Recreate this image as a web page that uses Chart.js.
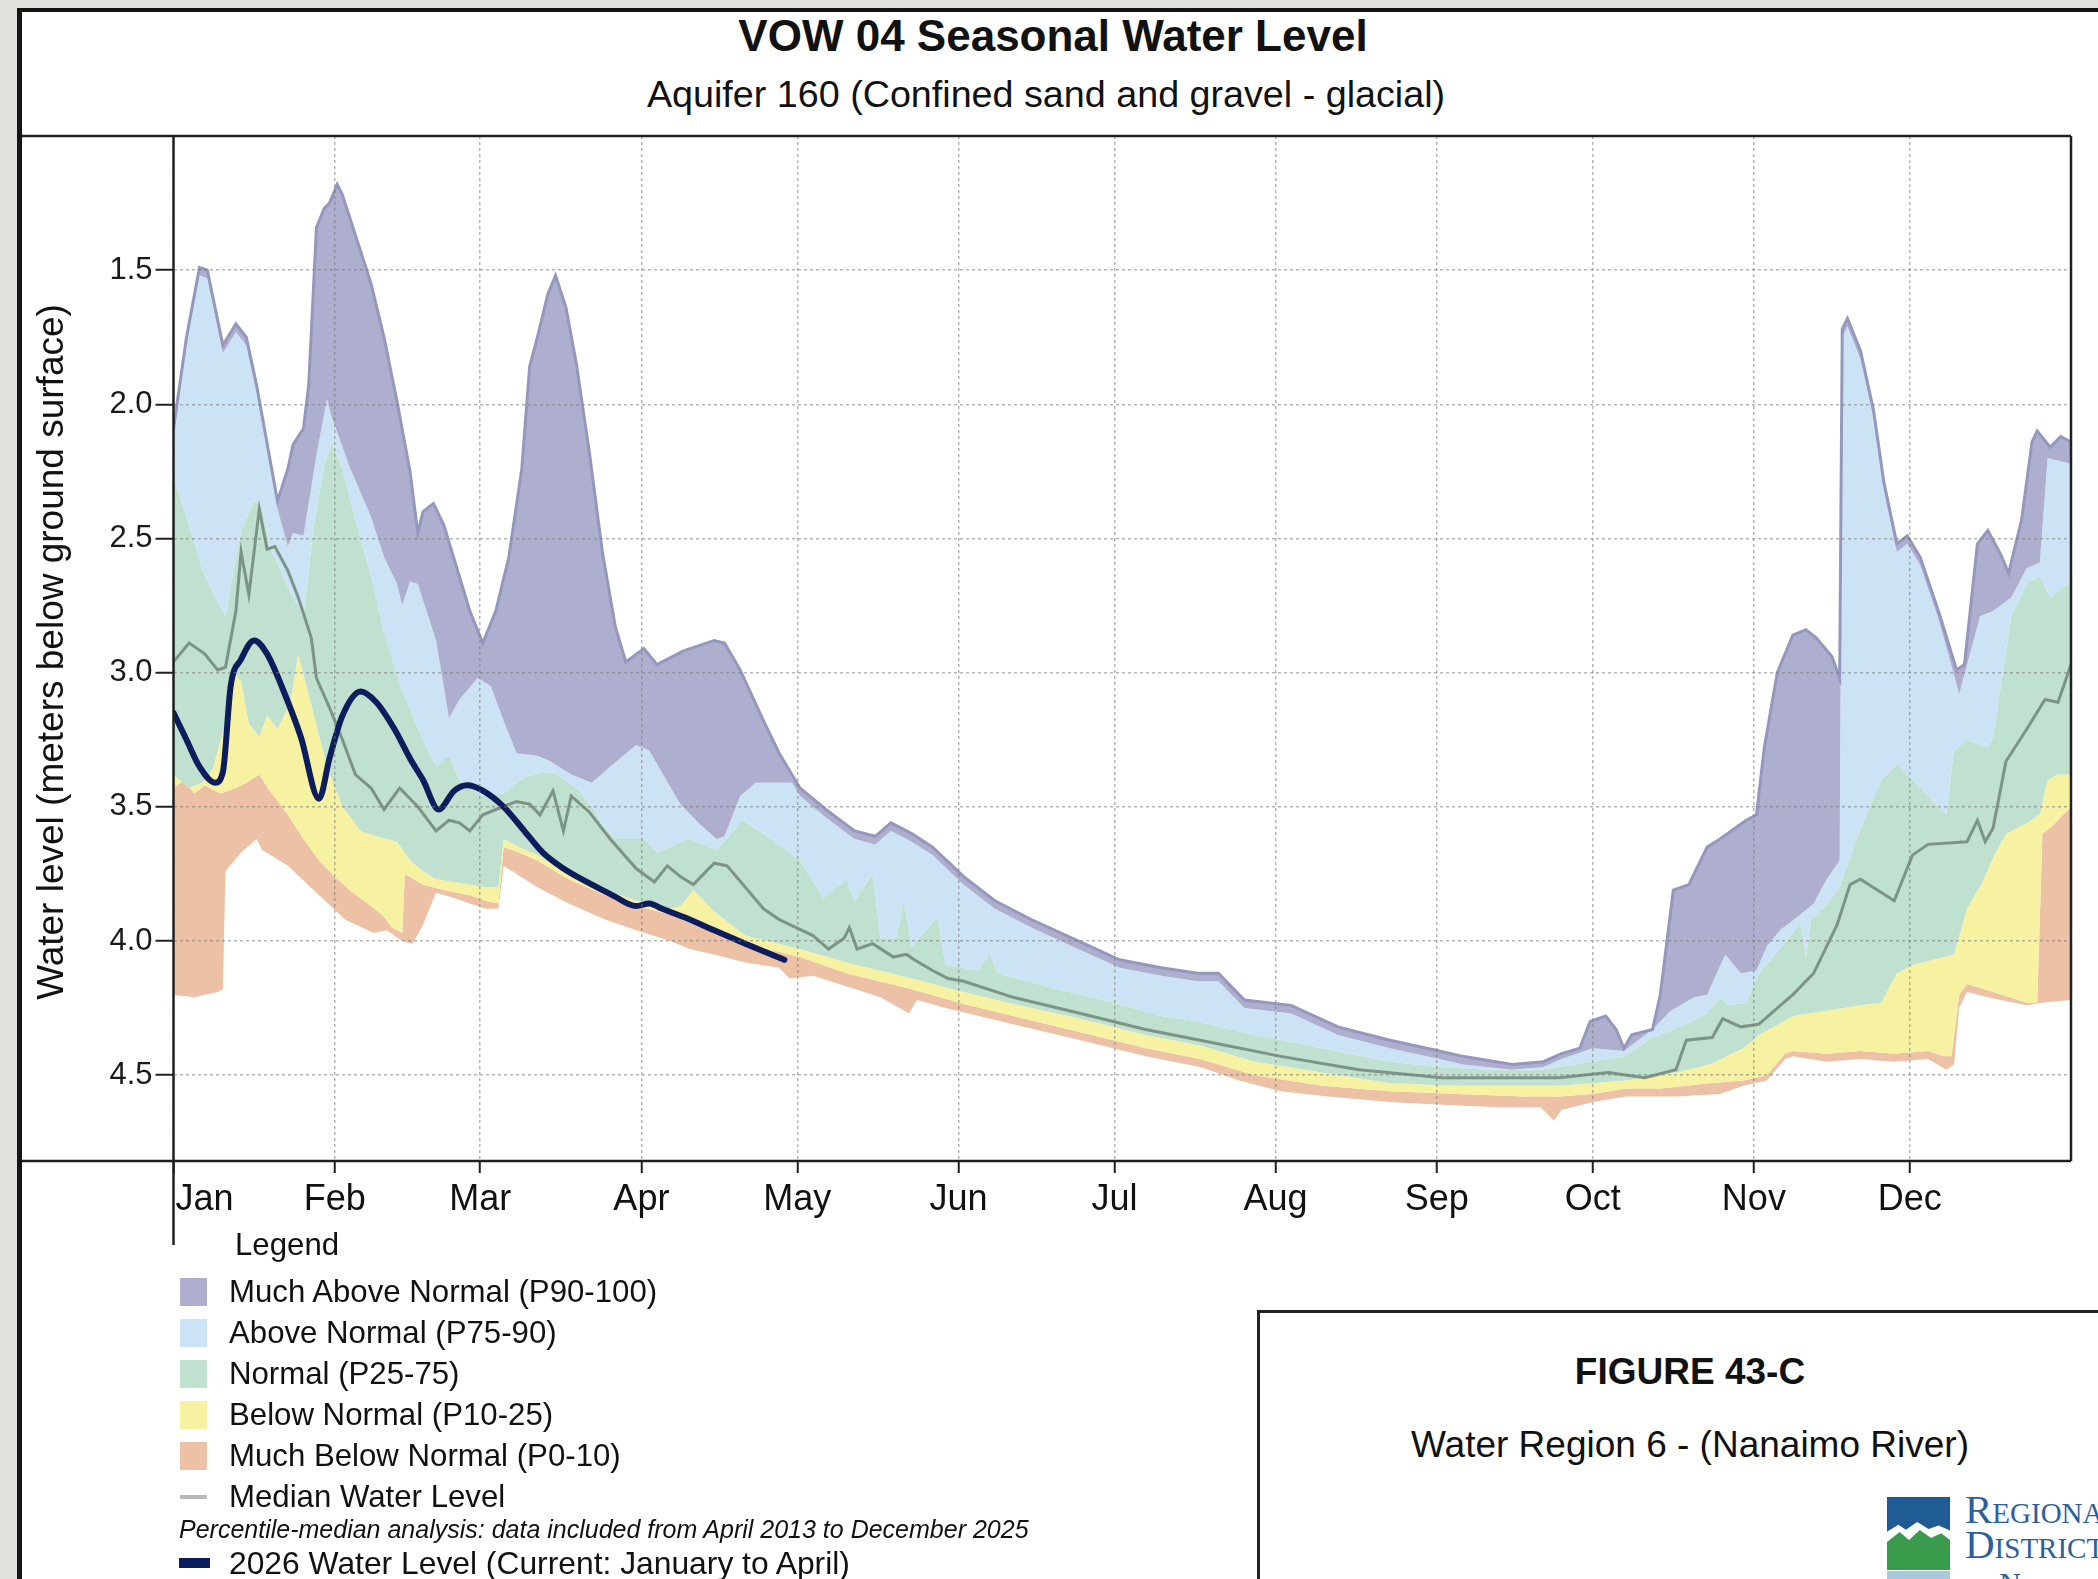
<!DOCTYPE html>
<html>
<head>
<meta charset="utf-8">
<title>VOW 04 Seasonal Water Level</title>
<script src="https://cdn.jsdelivr.net/npm/chart.js@4.4.1/dist/chart.umd.min.js"></script>
<style>
  html, body { margin: 0; padding: 0; }
  body {
    width: 2098px; height: 1579px; position: relative; overflow: hidden;
    background: #e1e1dc;
    font-family: "Liberation Sans", Arial, Helvetica, sans-serif; color: #111;
  }
  #page {
    position: absolute; left: 17px; top: 8px; width: 2081px; height: 1571px;
    box-sizing: border-box; background: #fff;
    border-left: 5px solid #151515; border-top: 4px solid #151515;
  }
  .abs { position: absolute; white-space: nowrap; }
  .center { transform: translateX(-50%); text-align: center; }
  #chart { position: absolute; left: 22px; top: 12px; }
  .lg-item { position: absolute; left: 180px; height: 40px; line-height: 40px; font-size: 31.2px; padding-left: 49px; white-space: nowrap; }
  .sw { position: absolute; left: 0; top: 6px; width: 27px; height: 28px; }
  #figbox { position: absolute; left: 1257px; top: 1310px; width: 900px; height: 400px; border: 3px solid #222; background: #fff; }
</style>
</head>
<body>
<div id="page"></div>

<div class="abs center" style="left:1053px; top:11px; line-height:50px; font-size:44px; font-weight:bold;">VOW 04 Seasonal Water Level</div>
<div class="abs center" style="left:1046px; top:69px; line-height:50px; font-size:37.7px;">Aquifer 160 (Confined sand and gravel - glacial)</div>

<canvas id="chart" width="2076" height="1300"></canvas>

<div class="abs" style="left:-349px; top:630px; width:800px; height:44px; line-height:44px; font-size:37px; text-align:center; transform:rotate(-90deg);">Water level (meters below ground surface)</div>

<div class="abs" style="left:235px; top:1225px; line-height:40px; font-size:31.2px;">Legend</div>
<div class="lg-item" style="top:1272px;"><span class="sw" style="background:#aeafcf;"></span>Much Above Normal (P90-100)</div>
<div class="lg-item" style="top:1313px;"><span class="sw" style="background:#cce3f6;"></span>Above Normal (P75-90)</div>
<div class="lg-item" style="top:1354px;"><span class="sw" style="background:#c0e1cf;"></span>Normal (P25-75)</div>
<div class="lg-item" style="top:1395px;"><span class="sw" style="background:#f7f2a2;"></span>Below Normal (P10-25)</div>
<div class="lg-item" style="top:1436px;"><span class="sw" style="background:#ecc1a5;"></span>Much Below Normal (P0-10)</div>
<div class="lg-item" style="top:1477px;"><span class="sw" style="top:18px; height:4px; background:#b9b9b9;"></span>Median Water Level</div>
<div class="abs" style="left:179px; top:1513px; line-height:32px; font-size:25px; font-style:italic;">Percentile-median analysis: data included from April 2013 to December 2025</div>
<div class="lg-item" style="top:1543px; font-size:31.8px;"><span class="sw" style="left:-1px; top:15px; width:31px; height:10px; background:#0b1d5c;"></span>2026 Water Level (Current: January to April)</div>

<div id="figbox"></div>
<div class="abs center" style="left:1690px; top:1350px; line-height:44px; font-size:37px; font-weight:bold;">FIGURE 43-C</div>
<div class="abs center" style="left:1690px; top:1423px; line-height:44px; font-size:37px;">Water Region 6 - (Nanaimo River)</div>

<div class="abs" style="left:1887px; top:1497px; width:63px; height:38px; background:#1f5c96;"></div>
<div class="abs" style="left:1887px; top:1522px; width:63px; height:14px; background:#fff; clip-path:polygon(0 100%, 0 70%, 18% 20%, 30% 55%, 48% 0, 66% 50%, 82% 25%, 100% 60%, 100% 100%);"></div>
<div class="abs" style="left:1887px; top:1530px; width:63px; height:40px; background:#3a9b4c; clip-path:polygon(0 100%, 0 30%, 20% 5%, 35% 25%, 52% 0, 70% 20%, 86% 8%, 100% 25%, 100% 100%);"></div>
<div class="abs" style="left:1887px; top:1571px; width:63px; height:10px; background:#a9c7dd;"></div>
<div class="abs" style="left:1965px; top:1492px; line-height:35px; font-size:41px; font-family:'Liberation Serif', 'DejaVu Serif', serif; font-variant:small-caps; color:#2c5f9d;">Regional<br>District<br><span style="font-size:30px;">of Nanaimo</span></div>

<script>
// x positions are day of year (0 = Jan 1), values are metres below ground surface
const monthNames = ['Jan', 'Feb', 'Mar', 'Apr', 'May', 'Jun', 'Jul', 'Aug', 'Sep', 'Oct', 'Nov', 'Dec'];
const monthStarts = [0, 31, 59, 90, 120, 151, 181, 212, 243, 273, 304, 334];
const yTicks = [1.5, 2.0, 2.5, 3.0, 3.5, 4.0, 4.5];

// P100 - top of "Much Above Normal"
const p100Day = [0, 2.5, 5, 6.5, 9.5, 12, 14, 16, 20, 22, 23, 25, 26, 27.5, 29, 30, 31.5, 32.5, 35, 38, 40.5, 43, 45.5, 47, 48, 50, 52, 54.5, 57, 59.5, 62, 64.5, 67, 68.5, 70, 72, 73.5, 75.5, 77.5, 80, 82.5, 85, 87, 90.5, 93, 98, 104, 106, 109, 113.5, 116.5, 120.5, 125.5, 131, 135, 138, 142, 146, 152, 158, 165, 174, 182, 190, 197, 201, 206, 215, 224, 234, 243.5, 248, 257.5, 263.5, 267, 270.5, 272.5, 275.5, 277.5, 279, 280.5, 284.5, 286, 288.5, 291.5, 295, 297.5, 302.5, 304.5, 306, 308.5, 311.5, 314, 316, 319, 320.5, 321, 322, 324.5, 327, 329, 331.5, 333.5, 336, 339.5, 343, 344.5, 347, 349, 351.5, 353, 355.5, 357.5, 358.5, 361, 363, 365];
const p100Val = [2.09, 1.75, 1.49, 1.50, 1.78, 1.70, 1.75, 1.93, 2.36, 2.24, 2.15, 2.09, 1.93, 1.34, 1.27, 1.25, 1.18, 1.22, 1.37, 1.55, 1.75, 1.99, 2.25, 2.48, 2.40, 2.37, 2.45, 2.61, 2.77, 2.89, 2.77, 2.57, 2.24, 1.86, 1.75, 1.59, 1.52, 1.64, 1.85, 2.18, 2.55, 2.83, 2.96, 2.91, 2.97, 2.92, 2.88, 2.89, 2.99, 3.18, 3.30, 3.43, 3.51, 3.59, 3.61, 3.56, 3.60, 3.65, 3.76, 3.85, 3.92, 4.00, 4.07, 4.10, 4.12, 4.12, 4.22, 4.24, 4.32, 4.37, 4.41, 4.43, 4.46, 4.45, 4.42, 4.40, 4.30, 4.28, 4.33, 4.40, 4.35, 4.33, 4.20, 3.81, 3.79, 3.65, 3.62, 3.55, 3.53, 3.28, 3.00, 2.86, 2.84, 2.87, 2.94, 3.02, 1.72, 1.68, 1.80, 2.02, 2.29, 2.52, 2.49, 2.57, 2.77, 2.99, 2.97, 2.52, 2.47, 2.56, 2.63, 2.43, 2.14, 2.10, 2.16, 2.12, 2.14];

// P90
const p90Day = [0, 2.5, 5, 6.5, 9.5, 12, 14, 16, 20, 22, 23, 25, 27.5, 29.5, 30.5, 34, 38, 40.5, 43, 44, 45.5, 47, 50.5, 53, 55, 58.5, 61, 63.5, 66, 70, 72.5, 76.5, 80.5, 84, 89, 91.5, 97.5, 101.5, 104.5, 106, 109, 112, 119, 120.5, 125.5, 131, 135, 138, 142, 146, 152, 158, 165, 174, 182, 190, 197, 201, 206, 215, 224, 234, 243.5, 248, 257.5, 263.5, 267, 273, 279, 284.5, 288, 292.5, 295, 298.5, 301.5, 304.5, 306.5, 309, 313, 315.5, 318, 320.5, 321, 322, 324.5, 327, 329, 331.5, 333.5, 336, 339.5, 343.5, 347.5, 350, 353.5, 356.5, 359, 360.5, 364.5, 365];
const p90Val = [2.12, 1.78, 1.52, 1.53, 1.81, 1.73, 1.78, 1.96, 2.39, 2.53, 2.48, 2.49, 2.19, 1.98, 2.05, 2.24, 2.42, 2.57, 2.67, 2.75, 2.66, 2.67, 2.88, 3.17, 3.10, 3.02, 3.05, 3.18, 3.30, 3.31, 3.33, 3.38, 3.41, 3.35, 3.27, 3.29, 3.49, 3.57, 3.62, 3.61, 3.46, 3.41, 3.41, 3.46, 3.54, 3.62, 3.64, 3.59, 3.63, 3.68, 3.79, 3.88, 3.95, 4.03, 4.10, 4.13, 4.15, 4.15, 4.25, 4.27, 4.35, 4.40, 4.44, 4.46, 4.48, 4.47, 4.44, 4.40, 4.41, 4.33, 4.26, 4.21, 4.20, 4.05, 4.12, 4.11, 4.02, 3.96, 3.90, 3.86, 3.77, 3.70, 1.75, 1.71, 1.83, 2.05, 2.32, 2.55, 2.52, 2.60, 2.80, 3.08, 2.79, 2.77, 2.72, 2.61, 2.59, 2.20, 2.22, 2.22];

// P75
const p75Day = [0, 3, 5.5, 7, 10, 13, 15.5, 17, 18.5, 22.5, 25, 27, 29, 30.5, 32.5, 35, 38, 40.5, 44, 48, 50.5, 53, 55, 59.5, 63.5, 67.5, 71, 74, 78, 80.5, 82.5, 85, 90.5, 93, 95.5, 99, 104.5, 109.5, 113.5, 120.5, 125, 129.5, 131, 134.5, 136, 139, 140.5, 142, 147, 148.5, 155, 157, 158.5, 168, 181, 190, 197, 208, 221, 234, 243.5, 253, 263, 273, 279, 284.5, 291, 295, 297.5, 299, 302.5, 305, 311.5, 313, 314, 315, 316.5, 320.5, 324.5, 328.5, 331.5, 334.5, 337.5, 341, 342.5, 345, 349, 350, 351.5, 353.5, 356.5, 359, 361, 365];
const p75Val = [2.27, 2.45, 2.61, 2.68, 2.79, 2.47, 2.36, 2.38, 2.53, 2.70, 2.79, 2.45, 2.23, 2.14, 2.24, 2.43, 2.64, 2.85, 3.07, 3.25, 3.35, 3.31, 3.40, 3.46, 3.45, 3.39, 3.37, 3.38, 3.44, 3.50, 3.57, 3.62, 3.62, 3.67, 3.65, 3.62, 3.66, 3.55, 3.60, 3.70, 3.84, 3.77, 3.85, 3.75, 3.99, 3.99, 3.85, 4.02, 3.91, 4.09, 4.11, 4.04, 4.12, 4.17, 4.23, 4.28, 4.30, 4.35, 4.40, 4.45, 4.47, 4.48, 4.48, 4.45, 4.43, 4.36, 4.31, 4.27, 4.21, 4.24, 4.23, 4.12, 3.97, 3.93, 4.06, 3.92, 3.90, 3.80, 3.58, 3.40, 3.34, 3.40, 3.46, 3.53, 3.29, 3.25, 3.28, 3.24, 3.05, 2.79, 2.67, 2.64, 2.72, 2.66];

// P25
const p25Day = [0, 3, 5.5, 7.5, 10, 12, 13, 14.5, 16.5, 18, 20, 22.5, 24, 26.5, 29.5, 32.5, 36, 39, 43, 45.5, 48, 50.5, 54, 57, 60, 62.5, 63.5, 66.5, 70, 76, 83, 89, 95.5, 97.5, 100, 104, 110, 120.5, 129.5, 142, 152, 161.5, 174.5, 187, 197.5, 208, 221, 234, 247, 260, 266.5, 279.5, 289, 295.5, 302, 305, 311.5, 318, 324.5, 328.5, 331.5, 334.5, 342.5, 345, 348, 350, 352.5, 356.5, 359, 360.5, 362.5, 365];
const p25Val = [3.38, 3.43, 3.41, 3.36, 3.19, 3.01, 3.03, 3.19, 3.24, 3.16, 3.21, 3.11, 2.93, 3.12, 3.35, 3.50, 3.59, 3.61, 3.63, 3.70, 3.74, 3.77, 3.78, 3.79, 3.80, 3.80, 3.62, 3.65, 3.68, 3.75, 3.81, 3.85, 3.88, 3.87, 3.81, 3.89, 3.98, 4.03, 4.08, 4.14, 4.19, 4.235, 4.29, 4.35, 4.39, 4.45, 4.49, 4.53, 4.54, 4.54, 4.54, 4.52, 4.49, 4.46, 4.40, 4.35, 4.28, 4.26, 4.24, 4.23, 4.12, 4.09, 4.05, 3.88, 3.78, 3.69, 3.60, 3.56, 3.53, 3.40, 3.38, 3.38];

// P10
const p10Day = [0, 2, 4, 6, 9, 12, 14, 16.5, 18.5, 22, 25, 28, 31.5, 34.5, 38, 40.5, 42, 44, 44.5, 48, 52, 57, 60, 62.5, 63.5, 66.5, 70, 76, 83, 89, 95.5, 99, 103, 110, 120.5, 129.5, 142, 152, 161.5, 174.5, 187, 197.5, 208, 221, 234, 247, 260, 266.5, 273, 279.5, 286, 295.5, 302, 306.5, 310, 311.5, 318, 324.5, 331, 337.5, 340.5, 342, 343.5, 345, 350, 356.5, 358.5, 359.5, 361.5, 365];
const p10Val = [3.43, 3.40, 3.45, 3.42, 3.45, 3.43, 3.41, 3.38, 3.44, 3.53, 3.62, 3.70, 3.77, 3.82, 3.87, 3.91, 3.95, 3.97, 3.75, 3.79, 3.81, 3.83, 3.85, 3.86, 3.65, 3.67, 3.70, 3.77, 3.83, 3.87, 3.90, 3.93, 3.96, 4.01, 4.06, 4.12, 4.18, 4.235, 4.28, 4.34, 4.40, 4.44, 4.50, 4.54, 4.56, 4.57, 4.58, 4.58, 4.57, 4.55, 4.55, 4.53, 4.52, 4.50, 4.42, 4.41, 4.42, 4.41, 4.42, 4.41, 4.43, 4.43, 4.20, 4.16, 4.19, 4.23, 4.23, 3.60, 3.57, 3.50];

// P0 - bottom of "Much Below Normal"
const p0Day = [0, 4, 8.5, 9.5, 10, 13, 16, 17, 22, 27.5, 33, 38.5, 41, 44, 46, 48, 50.5, 54, 57, 60, 62.5, 63.5, 70, 76, 83, 89, 95.5, 99.3, 104, 110, 116.5, 118.5, 123, 129.5, 136, 141.5, 143, 148.5, 161.5, 174.5, 187, 197.5, 205, 213, 222, 234, 244, 255, 263, 265.5, 267, 273, 279.5, 289, 297.5, 302, 306.5, 310, 311.5, 318, 324.5, 331, 337.5, 341, 342.5, 343.5, 345, 349, 356.5, 359.5, 365];
const p0Val = [4.20, 4.21, 4.19, 4.18, 3.74, 3.67, 3.62, 3.66, 3.72, 3.82, 3.92, 3.97, 3.96, 4.00, 4.01, 3.94, 3.82, 3.84, 3.86, 3.88, 3.88, 3.72, 3.80, 3.86, 3.92, 3.96, 4.00, 4.03, 4.05, 4.08, 4.10, 4.14, 4.13, 4.17, 4.21, 4.27, 4.22, 4.25, 4.31, 4.37, 4.43, 4.47, 4.52, 4.56, 4.58, 4.60, 4.61, 4.62, 4.62, 4.67, 4.63, 4.60, 4.58, 4.58, 4.57, 4.54, 4.52, 4.44, 4.43, 4.45, 4.44, 4.45, 4.44, 4.48, 4.46, 4.25, 4.19, 4.21, 4.24, 4.23, 4.22];

// median water level
const medDay = [0, 3, 6, 8.5, 10, 12, 13, 14.5, 16.5, 18, 19.5, 22, 24, 26.5, 27.5, 30, 32.5, 35, 38, 40.5, 43.5, 47, 50.5, 53, 55, 57, 59.5, 62, 66, 68.5, 70.5, 73, 75, 76.5, 80, 84, 89, 92.5, 95, 97.5, 100, 104, 106.5, 113.5, 116.5, 123, 126, 129, 130, 131.5, 134.5, 138.5, 141, 142.5, 146, 149, 152, 161.5, 174.5, 187, 197.5, 213, 228, 244, 258, 266.5, 276, 283, 289, 291, 296, 298, 301.5, 305, 308.5, 311.5, 315.5, 318, 320, 322.5, 324.5, 331, 334.5, 337.5, 345, 347, 348.5, 350, 352.5, 356.5, 360, 362.5, 365];
const medVal = [2.96, 2.89, 2.93, 2.99, 2.98, 2.77, 2.55, 2.71, 2.39, 2.54, 2.53, 2.62, 2.72, 2.87, 3.02, 3.13, 3.25, 3.38, 3.43, 3.51, 3.43, 3.50, 3.59, 3.55, 3.56, 3.59, 3.53, 3.51, 3.48, 3.49, 3.53, 3.44, 3.59, 3.46, 3.52, 3.62, 3.73, 3.78, 3.72, 3.76, 3.79, 3.71, 3.72, 3.88, 3.92, 3.98, 4.03, 3.99, 3.95, 4.03, 4.01, 4.06, 4.05, 4.07, 4.11, 4.14, 4.15, 4.21, 4.27, 4.33, 4.37, 4.43, 4.48, 4.51, 4.51, 4.51, 4.49, 4.51, 4.48, 4.37, 4.36, 4.29, 4.32, 4.31, 4.25, 4.20, 4.12, 4.02, 3.94, 3.79, 3.77, 3.85, 3.68, 3.64, 3.63, 3.55, 3.63, 3.58, 3.33, 3.21, 3.10, 3.11, 2.97];

// 2026 water level (January to April)
const cur2026Day = [0, 2.5, 5, 8, 9.5, 11, 13, 15.5, 18, 21, 24.5, 28, 30, 32.5, 36, 39, 42.5, 45.5, 48, 51, 54, 56.5, 59.5, 63.5, 67.5, 71, 75, 79.5, 84.5, 89, 91.5, 94, 98, 104, 110, 117.5];
const cur2026Val = [3.15, 3.25, 3.35, 3.41, 3.37, 3.05, 2.95, 2.88, 2.93, 3.06, 3.24, 3.47, 3.32, 3.16, 3.07, 3.11, 3.21, 3.32, 3.40, 3.51, 3.44, 3.42, 3.44, 3.50, 3.59, 3.67, 3.73, 3.78, 3.83, 3.87, 3.86, 3.88, 3.91, 3.96, 4.01, 4.07];

function pts(days, vals) {
    return days.map((d, i) => ({ x: d, y: vals[i] }));
}

const none = 'rgba(0,0,0,0)';
const gridColor = 'rgba(120,120,120,0.55)';
const font = '"Liberation Sans", Arial, Helvetica, sans-serif';

// frame lines round the plot and the month labels under it
const framePlugin = {
    id: 'frame',
    afterDraw(chart) {
        const { ctx, chartArea: a, scales: { x } } = chart;
        ctx.save();
        ctx.strokeStyle = '#202020';
        ctx.lineWidth = 2.5;
        ctx.beginPath();
        ctx.moveTo(0, a.top); ctx.lineTo(a.right, a.top);
        ctx.moveTo(0, a.bottom); ctx.lineTo(a.right, a.bottom);
        ctx.moveTo(a.right, a.top); ctx.lineTo(a.right, a.bottom);
        ctx.moveTo(a.left, a.top); ctx.lineTo(a.left, a.bottom + 84);
        ctx.stroke();

        ctx.fillStyle = '#111';
        ctx.font = '36px ' + font;
        ctx.textBaseline = 'middle';
        monthStarts.forEach((d, i) => {
            const px = x.getPixelForValue(d);
            ctx.textAlign = i === 0 ? 'left' : 'center';
            ctx.fillText(monthNames[i], i === 0 ? px + 2 : px, a.bottom + 39);
        });
        ctx.restore();
    }
};

new Chart(document.getElementById('chart'), {
    type: 'line',
    data: {
        datasets: [
            { label: 'Much Above Normal (P90-100)', data: pts(p100Day, p100Val), borderColor: '#9597bd', borderWidth: 3, backgroundColor: '#aeafcf', fill: '+1', order: 2 },
            { label: 'Above Normal (P75-90)', data: pts(p90Day, p90Val), borderColor: none, borderWidth: 0, backgroundColor: '#cce3f6', fill: '+1', order: 3 },
            { label: 'Normal (P25-75)', data: pts(p75Day, p75Val), borderColor: none, borderWidth: 0, backgroundColor: '#c0e1cf', fill: '+1', order: 4 },
            { label: 'Below Normal (P10-25)', data: pts(p25Day, p25Val), borderColor: none, borderWidth: 0, backgroundColor: '#f7f2a2', fill: '+1', order: 5 },
            { label: 'Much Below Normal (P0-10)', data: pts(p10Day, p10Val), borderColor: none, borderWidth: 0, backgroundColor: '#ecc1a5', fill: '+1', order: 6 },
            { label: 'P0', data: pts(p0Day, p0Val), borderColor: none, borderWidth: 0, fill: false, order: 7 },
            { label: 'Median Water Level', data: pts(medDay, medVal), borderColor: '#7c9486', borderWidth: 3, fill: false, order: 1 },
            { label: '2026 Water Level', data: pts(cur2026Day, cur2026Val), borderColor: '#0b1d5c', borderWidth: 6, fill: false, order: 0, cubicInterpolationMode: 'monotone', borderCapStyle: 'round', borderJoinStyle: 'round' }
        ]
    },
    options: {
        responsive: false,
        animation: false,
        events: [],
        layout: { padding: { left: 0, top: 124, right: 27, bottom: 0 } },
        elements: { point: { radius: 0 }, line: { tension: 0 } },
        plugins: {
            legend: { display: false },
            tooltip: { enabled: false },
            filler: { propagate: false }
        },
        scales: {
            x: {
                type: 'linear', min: 0, max: 365,
                afterFit(scale) { scale.height = 151; },
                afterBuildTicks(scale) { scale.ticks = monthStarts.map(v => ({ value: v })); },
                ticks: { display: false },
                grid: { color: gridColor, lineWidth: 1.5, z: 1, tickLength: 12, tickColor: '#202020', tickWidth: 2 },
                border: { display: false, dash: [3, 3] }
            },
            y: {
                type: 'linear', reverse: true, min: 1.0, max: 4.82,
                afterFit(scale) { scale.width = 151.5; },
                afterBuildTicks(scale) { scale.ticks = yTicks.map(v => ({ value: v })); },
                ticks: { color: '#1a1a1a', padding: 3, font: { size: 31, family: font }, callback: v => v.toFixed(1) },
                grid: { color: gridColor, lineWidth: 1.5, z: 1, tickLength: 18, tickColor: '#202020', tickWidth: 2 },
                border: { display: false, dash: [3, 3] }
            }
        }
    },
    plugins: [framePlugin]
});
</script>
</body>
</html>
